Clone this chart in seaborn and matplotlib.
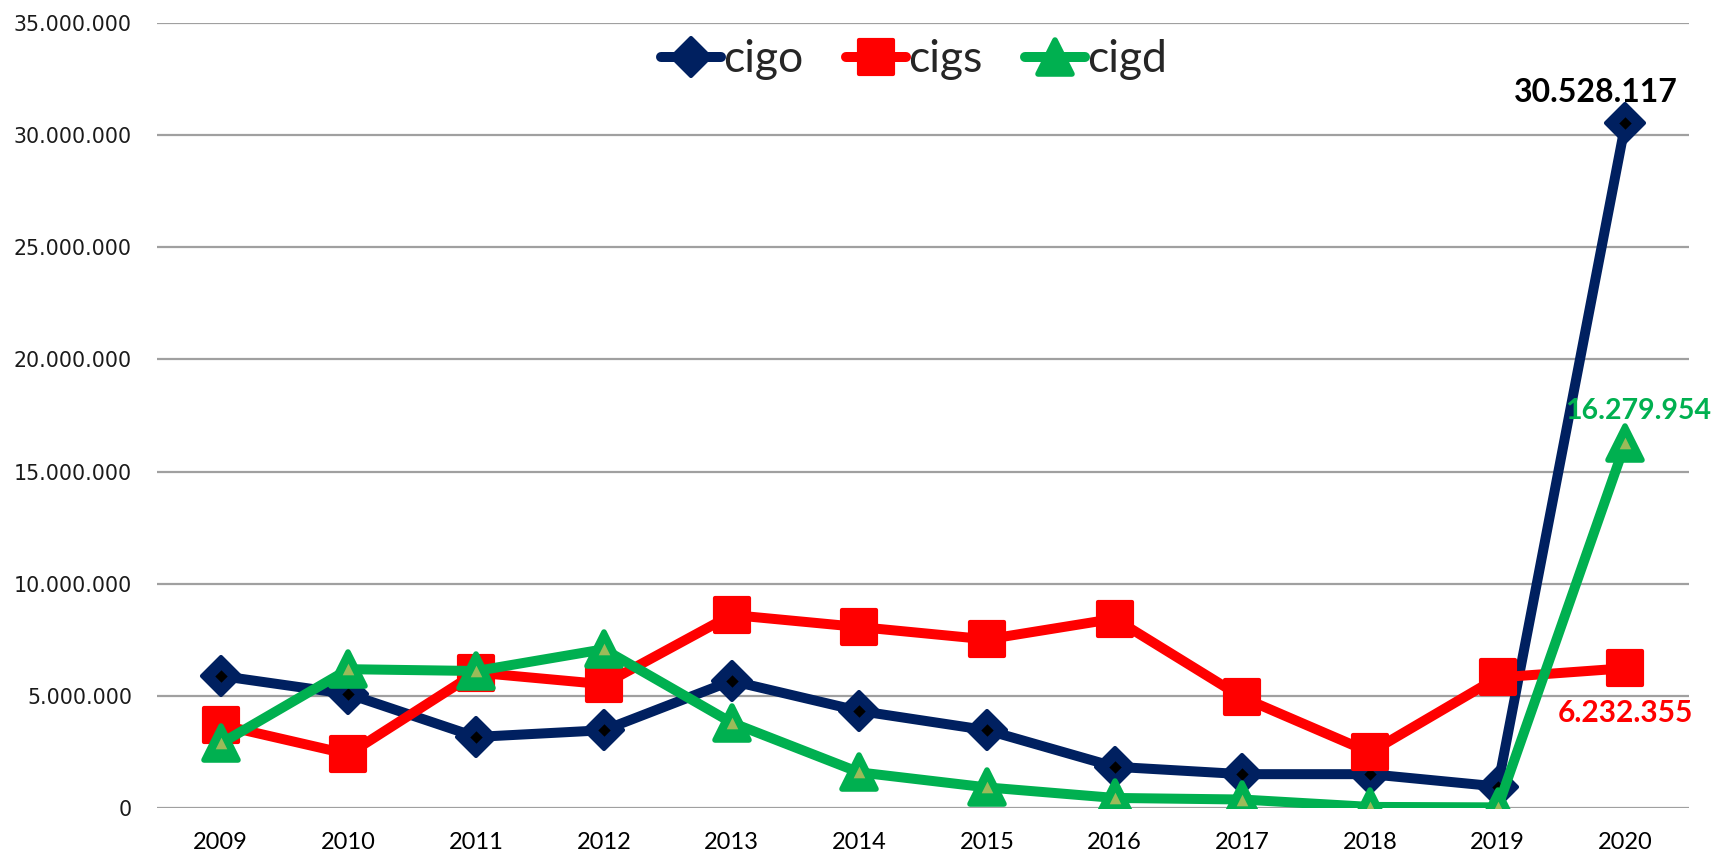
import matplotlib
matplotlib.use("Agg")
import matplotlib.pyplot as plt
from matplotlib.markers import MarkerStyle
from matplotlib.ticker import FuncFormatter
import seaborn as sns
import pandas as pd

years = ["2009", "2010", "2011", "2012", "2013", "2014", "2015", "2016", "2017", "2018", "2019", "2020"]
cigo = [5890000, 5080000, 3170000, 3470000, 5670000, 4330000, 3470000, 1840000, 1510000, 1510000, 960000, 30528117]
cigs = [3710000, 2400000, 6040000, 5520000, 8610000, 8070000, 7520000, 8440000, 4930000, 2480000, 5820000, 6232355]
cigd = [2880000, 6190000, 6110000, 7080000, 3810000, 1590000, 920000, 450000, 380000, 50000, 30000, 16279954]
series_names = ["cigo", "cigs", "cigd"]
colors = {"cigo": "#002060", "cigs": "#FF0000", "cigd": "#00B050"}

df = pd.DataFrame({"idx": range(len(years)), "year": years, "cigo": cigo, "cigs": cigs, "cigd": cigd})

sns.set_theme(style="white")
plt.rcParams["font.family"] = ["Lato", "DejaVu Sans"]

fig = plt.figure(figsize=(17.15, 8.52), dpi=100)
ax = fig.add_axes([0.0915, 0.0516, 0.8935, 0.9214])

lw = 7.2
styles = {
    "cigo": dict(marker=MarkerStyle("D", joinstyle="round"), markersize=19.5, markeredgewidth=3),
    "cigs": dict(marker=MarkerStyle("s", joinstyle="round"), markersize=24.5, markeredgewidth=3),
    "cigd": dict(marker=MarkerStyle("^", joinstyle="round"), markersize=25, markeredgewidth=4),
}
z = {"cigo": 3, "cigs": 4, "cigd": 5}
for name in series_names:
    sns.lineplot(data=df, x="idx", y=name, ax=ax, color=colors[name], linewidth=lw,
                 markeredgecolor=colors[name], markerfacecolor=colors[name],
                 label=name, zorder=z[name], solid_joinstyle="round", solid_capstyle="round",
                 **styles[name])

# inner marker details
sns.scatterplot(data=df, x="idx", y="cigo", ax=ax, marker="D", s=40, color="black",
                linewidth=0, zorder=3.5, legend=False)
sns.scatterplot(data=df, x="idx", y="cigd", ax=ax, marker="^", s=70, color="#9BBB59",
                linewidth=0, zorder=5.5, legend=False)

ax.set_xlim(-0.5, len(years) - 0.5)
ax.set_ylim(0, 35000000)
ax.set_yticks(range(0, 35000001, 5000000))
ax.yaxis.set_major_formatter(FuncFormatter(lambda v, p: f"{int(v):,}".replace(",", ".")))
ax.set_xticks(range(len(years)))
ax.set_xticklabels(years)
ax.set_xlabel("")
ax.set_ylabel("")
for s in ax.spines.values():
    s.set_visible(False)
ax.grid(axis="y", color="#A0A0A0", linewidth=1.6)
ax.grid(axis="x", visible=False)
ax.set_axisbelow(True)
ax.tick_params(axis="y", length=0, pad=18, labelsize=14.8, labelcolor="#1a1a1a")
ax.tick_params(axis="x", length=0, pad=17, labelsize=17, labelcolor="black")
for t in ax.get_yticklabels():
    t.set_fontfamily("DejaVu Sans")

last = len(years) - 1
ax.annotate(f"{cigo[-1]:,}".replace(",", "."), xy=(last, cigo[-1]), xytext=(-21, 15),
            textcoords="offset points", ha="center", va="baseline", fontsize=23,
            fontweight="bold", color="black", zorder=10)
ax.annotate(f"{cigd[-1]:,}".replace(",", "."), xy=(last, cigd[-1]), xytext=(9, 17),
            textcoords="offset points", ha="center", va="baseline", fontsize=20.5,
            fontweight="bold", color=colors["cigd"], zorder=10)
ax.annotate(f"{cigs[-1]:,}".replace(",", "."), xy=(last, cigs[-1]), xytext=(0, -39),
            textcoords="offset points", ha="center", va="baseline", fontsize=21.5,
            fontweight="bold", color=colors["cigs"], zorder=10)

leg = ax.legend(loc="center", bbox_to_anchor=(0.494, 0.953), ncol=3, frameon=False,
                fontsize=32, handlelength=1.35, handletextpad=0.05, columnspacing=0.95,
                markerscale=1.0)

fig.savefig("out.png", dpi=100, facecolor="white")
